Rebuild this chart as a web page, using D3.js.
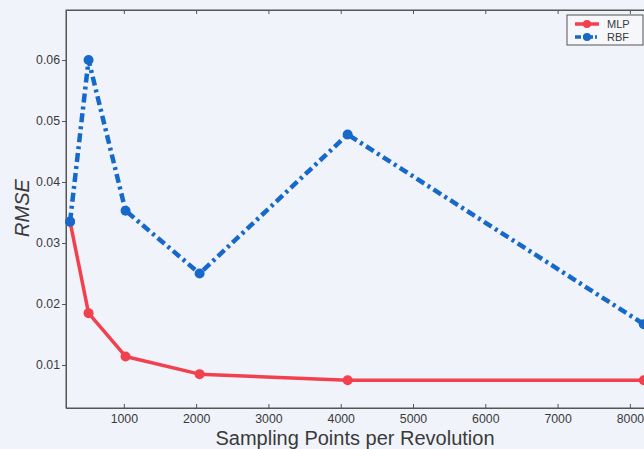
<!DOCTYPE html>
<html>
<head>
<meta charset="utf-8">
<script src="https://cdn.jsdelivr.net/npm/d3@7"></script>
<style>
  html, body { margin: 0; padding: 0; background: #f0f3f9; }
  svg { display: block; }
  text { font-family: "Liberation Sans", Arial, sans-serif; fill: #3a3a3a; }
</style>
</head>
<body>
<script>
// Sampling points per revolution and RMSE of each model
const samplingPoints = [256, 512, 1024, 2048, 4096, 8192];
const mlpRmse = [0.0335, 0.0185, 0.0114, 0.0085, 0.0075, 0.0075];
const rbfRmse = [0.0335, 0.0600, 0.0353, 0.0250, 0.0478, 0.0167];
const xTicks = [1000, 2000, 3000, 4000, 5000, 6000, 7000, 8000];
const yTicks = [0.01, 0.02, 0.03, 0.04, 0.05, 0.06];
const seriesNames = ["MLP", "RBF"];
const seriesColors = ["#f2404e", "#1769c9"];

const W = 644, H = 449;
const mLeft = 66, mTop = 10, mRight = 700, mBottom = 408;

const svg = d3.select("body").append("svg").attr("width", W).attr("height", H);

const x = d3.scaleLinear().domain([200, 8970]).range([mLeft, mRight]);
const y = d3.scaleLinear().domain([0.00295, 0.0682]).range([mBottom, mTop]);

const axisColor = "#555";

// Plot frame
svg.append("rect").attr("x", mLeft).attr("y", mTop)
  .attr("width", mRight - mLeft).attr("height", mBottom - mTop)
  .attr("fill", "none").attr("stroke", axisColor).attr("stroke-width", 1);

// Bottom axis (ticks pointing inward)
const xAxis = svg.append("g").attr("transform", `translate(0,${mBottom})`)
  .call(d3.axisBottom(x).tickValues(xTicks).tickSizeInner(-4).tickSizeOuter(0).tickPadding(6).tickFormat(d3.format("d")));
// Top ticks
svg.append("g").attr("transform", `translate(0,${mTop})`)
  .call(d3.axisTop(x).tickValues(xTicks).tickSizeInner(-4).tickSizeOuter(0).tickFormat(""));
// Left axis
const yAxis = svg.append("g").attr("transform", `translate(${mLeft},0)`)
  .call(d3.axisLeft(y).tickValues(yTicks).tickSizeInner(4).tickSizeOuter(0).tickPadding(2).tickFormat(d3.format(".2f")));

[xAxis, yAxis].forEach(g => {
  g.selectAll(".tick text").attr("font-size", 12.3).attr("fill", "#3a3a3a")
    .style("font-family", "'Liberation Sans', Arial, sans-serif");
});
svg.selectAll("g .domain").attr("stroke", axisColor);
svg.selectAll("g .tick line").attr("stroke", axisColor);

// Axis titles
svg.append("text").attr("x", 355).attr("y", 445).attr("text-anchor", "middle")
  .attr("font-size", 20).text("Sampling Points per Revolution");
svg.append("text").attr("transform", "translate(29,208) rotate(-90)")
  .attr("text-anchor", "middle").attr("font-size", 20).attr("font-style", "italic")
  .text("RMSE");

const line = d3.line().x(d => x(d[0])).y(d => y(d[1]));
const series = [
  { name: seriesNames[0], color: seriesColors[0], values: mlpRmse, dash: null, width: 3.5 },
  { name: seriesNames[1], color: seriesColors[1], values: rbfRmse, dash: "9,4,3,4", width: 4.5 }
];

const plot = svg.append("g");
series.forEach(s => {
  const pts = samplingPoints.map((p, i) => [p, s.values[i]]);
  plot.append("path").datum(pts).attr("d", line)
    .attr("fill", "none").attr("stroke", s.color).attr("stroke-width", s.width)
    .attr("stroke-dasharray", s.dash).attr("stroke-linejoin", "round");
  plot.selectAll(null).data(pts).enter().append("circle")
    .attr("cx", d => x(d[0])).attr("cy", d => y(d[1])).attr("r", 5)
    .attr("fill", s.color);
});

// Legend
const lg = svg.append("g").attr("transform", "translate(567,15)");
lg.append("rect").attr("width", 76).attr("height", 30)
  .attr("fill", "#f5f7fb").attr("stroke", axisColor).attr("stroke-width", 1);
series.forEach((s, i) => {
  const yy = 9 + i * 13;
  lg.append("line").attr("x1", 8).attr("x2", 32).attr("y1", yy).attr("y2", yy)
    .attr("stroke", s.color).attr("stroke-width", 3.5).attr("stroke-dasharray", s.dash ? "6,2,2,2" : null);
  lg.append("circle").attr("cx", 20).attr("cy", yy).attr("r", 4).attr("fill", s.color);
  lg.append("text").attr("x", 40).attr("y", yy + 4).attr("font-size", 11).text(s.name);
});
</script>
</body>
</html>
